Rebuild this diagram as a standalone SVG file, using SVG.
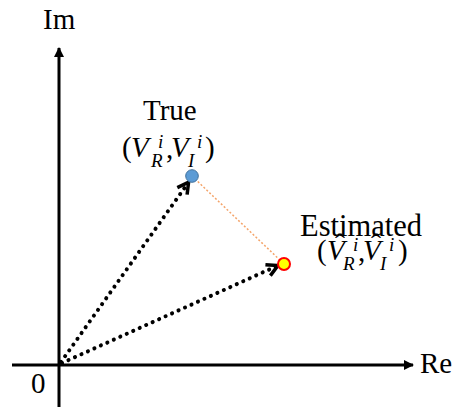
<svg xmlns="http://www.w3.org/2000/svg" width="453" height="407" viewBox="0 0 453 407">
<style>
text{font-family:'Liberation Serif','Times New Roman',serif;font-size:29px;fill:#000}
.i{font-style:italic}
.s{font-size:19px;font-style:italic}
.h{font-size:30px}
.axis{stroke:#000;stroke-width:3;fill:none}
.vec{stroke:#000;stroke-width:4;stroke-dasharray:0.1 7;stroke-linecap:round;fill:none}
</style>
<defs>
<marker id="ah" markerWidth="10" markerHeight="10" refX="9" refY="5" orient="auto" markerUnits="userSpaceOnUse">
<path d="M0,0 L10,5 L0,10 Z" fill="#000"/>
</marker>
<marker id="oh" markerWidth="16" markerHeight="16" refX="12" refY="8" orient="auto" markerUnits="userSpaceOnUse">
<path d="M2,2 L13,8 L2,14" fill="none" stroke="#000" stroke-width="3.5" stroke-linejoin="miter"/>
</marker>
</defs>
<g id="connectors">
<line class="axis" x1="59" y1="407" x2="59" y2="48" marker-end="url(#ah)"/>
<line class="axis" x1="12" y1="365" x2="413" y2="365" marker-end="url(#ah)"/>
<line class="vec" x1="61" y1="362" x2="188" y2="183" marker-end="url(#oh)"/>
<line class="vec" x1="62" y1="363" x2="277" y2="266" marker-end="url(#oh)"/>
<line x1="192" y1="176" x2="284" y2="264" stroke="#f4a46a" stroke-width="1.5" stroke-dasharray="2 2"/>
</g>
<g id="axis-labels">
<text x="43" y="29">Im</text>
<text x="420" y="373">Re</text>
<text x="31" y="393">0</text>
</g>
<g id="true">
<circle cx="192" cy="176" r="6.3" fill="#5b9bd5" stroke="#41719c" stroke-width="1"/>
<text x="143" y="120">True</text>
<text><tspan x="122" y="157">(</tspan><tspan class="i" x="131" y="157">V</tspan><tspan class="s" x="158" y="148">i</tspan><tspan class="s" x="151" y="167">R</tspan><tspan x="166" y="158">,</tspan><tspan class="i" x="171" y="157">V</tspan><tspan class="s" x="197" y="148">i</tspan><tspan class="s" x="188" y="167">I</tspan><tspan x="205" y="157">)</tspan></text>
</g>
<g id="estimated">
<circle cx="284" cy="264" r="6" fill="#ffff00" stroke="#ff0000" stroke-width="2"/>
<text x="300" y="236" style="font-size:30.5px">Estimated</text>
<text><tspan x="317" y="260">(</tspan><tspan class="i" x="327" y="260">V</tspan><tspan class="h" x="335" y="254">ˆ</tspan><tspan class="s" x="353" y="251">i</tspan><tspan class="s" x="343" y="270">R</tspan><tspan x="358" y="261">,</tspan><tspan class="i" x="363" y="260">V</tspan><tspan class="h" x="371" y="254">ˆ</tspan><tspan class="s" x="389" y="251">i</tspan><tspan class="s" x="380" y="270">I</tspan><tspan x="398" y="260">)</tspan></text>
</g>
</svg>
